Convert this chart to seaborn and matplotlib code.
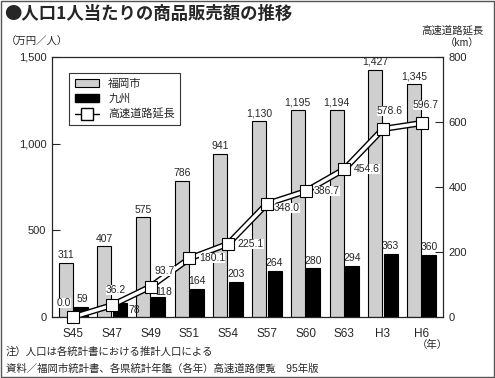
import numpy as np
import pandas as pd
import matplotlib
matplotlib.use("Agg")
import matplotlib.pyplot as plt
import seaborn as sns
from matplotlib.patches import Patch, Rectangle
from matplotlib.lines import Line2D
from matplotlib.ticker import FuncFormatter

# --- data ---
years = ['S45', 'S47', 'S49', 'S51', 'S54', 'S57', 'S60', 'S63', 'H3', 'H6']
fukuoka = [311, 407, 575, 786, 941, 1130, 1195, 1194, 1427, 1345]
kyushu = [59, 78, 118, 164, 203, 264, 280, 294, 363, 360]
highway = [0.0, 36.2, 93.7, 180.1, 225.1, 348.0, 386.7, 454.6, 578.6, 596.7]

sns.set_style("white")
plt.rcParams['font.family'] = ['Liberation Sans', 'Noto Sans CJK JP', 'DejaVu Sans']

df = pd.DataFrame({
    'year': years * 2,
    'value': fukuoka + kyushu,
    'region': ['福岡市'] * len(years) + ['九州'] * len(years),
})

fig = plt.figure(figsize=(4.95, 3.78), dpi=100)
ax = fig.add_axes([52 / 495, 1 - 317 / 378, 391 / 495, 260 / 378])

sns.barplot(data=df, x='year', y='value', hue='region', order=years,
            hue_order=['福岡市', '九州'], palette=['#cfcfcf', '#000000'],
            width=0.8, gap=0.1, edgecolor='black', linewidth=0.8,
            legend=False, ax=ax)
ax.set_ylim(0, 1500)
ax.set_xlim(-0.55, 9.55)
ax.set_yticks([0, 500, 1000, 1500])
ax.yaxis.set_major_formatter(FuncFormatter(lambda v, p: f"{int(v):,}"))
ax.set_xlabel('')
ax.set_ylabel('')
ax.tick_params(axis='y', direction='in', length=6, width=0.8, labelsize=8, pad=4)
ax.tick_params(axis='x', length=0, labelsize=8.5, pad=8)
for s in ax.spines.values():
    s.set_linewidth(0.8)
    s.set_color('black')

# highway line on secondary axis
ax2 = ax.twinx()
x = np.arange(len(years))
sns.lineplot(x=x, y=highway, color='black', linewidth=4.5, ax=ax2, legend=False)
sns.lineplot(x=x, y=highway, color='white', linewidth=2.5, ax=ax2, legend=False)
ax2.plot(x, highway, linestyle='none', marker='s', markersize=8.5,
         markerfacecolor='white', markeredgecolor='black', markeredgewidth=0.8,
         clip_on=False, zorder=7)
ax2.set_ylim(0, 800)
ax2.set_yticks([0, 200, 400, 600, 800])
ax2.tick_params(axis='y', direction='in', length=6, width=0.8, labelsize=8, pad=4)
ax2.set_ylabel('')
for s in ax2.spines.values():
    s.set_linewidth(0.8)

# bar labels (drawn on ax2 so they sit above the line)
for i, v in enumerate(fukuoka):
    ax2.annotate(f"{v:,}", (i - 0.2, v), xycoords=ax.transData, xytext=(0, 2),
                 textcoords='offset points', ha='center', va='bottom', fontsize=7.5)
k_off = [(1, 0, 'center'), (1, -10, 'left'), (4, -2, 'center'), (0, 0, 'center'),
         (0, 0, 'center'), (0, 0, 'center'), (0, 0, 'center'), (0, 0, 'center'),
         (0, 0, 'center'), (0, 0, 'center')]
for i, v in enumerate(kyushu):
    dx, dy, ha = k_off[i]
    xx = i + 0.2 if ha == 'center' else i + 0.4
    ax2.annotate(f"{v}", (xx, v), xycoords=ax.transData, xytext=(dx, 2 + dy),
                 textcoords='offset points', ha=ha, va='bottom', fontsize=7.5,
                 zorder=6)

# line labels, offsets in points (x, y, ha)
h_off = [(-1.5, 10, 'right'), (3, 11, 'center'), (3, 11, 'left'),
         (7, 0, 'left'), (7, 0, 'left'), (5, -3, 'left'),
         (6, 0, 'left'), (7, 0, 'left'), (5, 13, 'center'),
         (3, 13, 'center')]
for i, v in enumerate(highway):
    dx, dy, ha = h_off[i]
    ax2.annotate(f"{v:.1f}", (i, v), xytext=(dx, dy), textcoords='offset points',
                 ha=ha, va='center', fontsize=7.5, zorder=6,
                 bbox=dict(boxstyle='square,pad=0', facecolor='white', edgecolor='none'))

# legend
handles = [
    Patch(facecolor='#cfcfcf', edgecolor='black', linewidth=0.8, label='福岡市'),
    Patch(facecolor='black', edgecolor='black', label='九州'),
    Line2D([0], [0], color='black', linewidth=1, marker='s', markersize=9,
           markerfacecolor='white', markeredgecolor='black', label='高速道路延長'),
]
leg = ax2.legend(handles=handles, loc='upper left', bbox_to_anchor=(0.03, 0.96),
                 fontsize=8, frameon=True, fancybox=False, edgecolor='black',
                 handlelength=2.2, borderpad=0.5, labelspacing=0.45)
leg.get_frame().set_linewidth(0.8)
leg.set_zorder(10)

# titles and notes
fig.text(0.008, 0.988, '●人口1人当たりの商品販売額の推移', fontsize=12.5,
         fontweight='bold', ha='left', va='top',
         family=['Noto Sans CJK JP', 'Liberation Sans'])
fig.text(0.012, 1 - 42 / 378, '（万円／人）', fontsize=7.5, ha='left', va='center')
fig.text(452 / 495, 1 - 30 / 378, '高速道路延長', fontsize=7.5, ha='center', va='center')
fig.text(462 / 495, 1 - 43 / 378, '（km）', fontsize=7.5, ha='center', va='center')
fig.text(432 / 495, 1 - 345 / 378, '（年）', fontsize=7.5, ha='center', va='center')
fig.text(0.012, 1 - 352 / 378, '注）人口は各統計書における推計人口による',
         fontsize=7.5, ha='left', va='center')
fig.text(0.012, 1 - 369 / 378, '資料／福岡市統計書、各県統計年鑑（各年）高速道路便覧　95年版',
         fontsize=7.5, ha='left', va='center')

fig.patches.append(Rectangle((0.002, 0.003), 0.996, 0.994, transform=fig.transFigure,
                             fill=False, edgecolor='#555555', linewidth=1))

fig.savefig('out.png', dpi=100)
